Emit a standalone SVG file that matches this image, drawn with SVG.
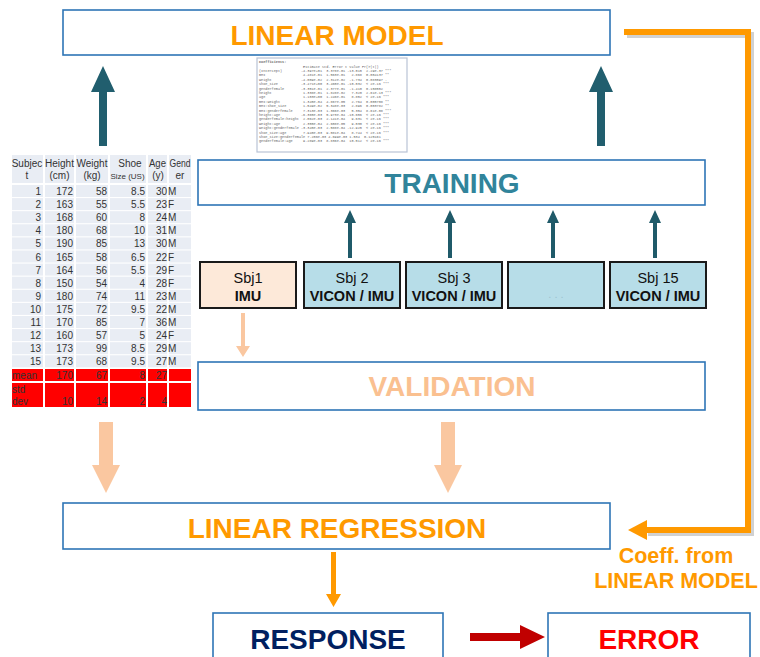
<svg xmlns="http://www.w3.org/2000/svg" width="760" height="657" viewBox="0 0 760 657">
<style>
.box{fill:#fff;stroke:#2e75b6;stroke-width:1.6}
.big{font-family:"Liberation Sans",Arial,sans-serif;font-weight:bold;font-size:28px;text-anchor:middle}
.lbl{font-family:"Liberation Sans",Arial,sans-serif;font-weight:bold;font-size:21.5px;text-anchor:middle;fill:#ff9900}
.sbj{fill:#b7dde8;stroke:#1a1a1a;stroke-width:2}
.st{font-family:"Liberation Sans",Arial,sans-serif;font-size:14.5px;text-anchor:middle;fill:#111}
.stb{font-weight:bold}
.dots{font-family:"Liberation Sans",Arial,sans-serif;font-size:11px;text-anchor:middle;fill:#9ec3cf}
.cell{fill:#e9edf4}
.red{fill:#ff0000}
.tt{font-family:"Liberation Sans",Arial,sans-serif;font-size:10px;fill:#333}
.sm{font-size:8px}
.r{text-anchor:end}
.c{text-anchor:middle}
.co{font-family:"Liberation Mono","DejaVu Sans Mono",monospace;font-size:3.5px;fill:#666;white-space:pre}
.teal{fill:#215e6e}
.steal{fill:#1f5a69}
.peach{fill:#fac7a0}
.orange{fill:#ff9900}
</style>

<g id="linear-model">
<rect class="box" x="63" y="10" width="547" height="45"/>
<text class="big" x="337" y="45" fill="#ff9900">LINEAR MODEL</text>
</g>

<g id="coefficients">
<rect x="257" y="58" width="150" height="94" fill="#fff" stroke="#b9c3d6" stroke-width="1.2"/>
<text class="co" font-weight="bold" x="259" y="63">Coefficients:</text>
<text class="co" x="259" y="67.5">                     Estimate Std. Error t value Pr(&gt;|t|)    </text>
<text class="co" x="259" y="72">(Intercept)         -4.397e+01  3.378e-01 -13.015  2.29e-37 ***</text>
<text class="co" x="259" y="76.4">BMI                  4.481e-01  1.563e-01   2.868  0.004137 ** </text>
<text class="co" x="259" y="80.8">weight              -4.009e-02  2.312e-02  -1.734  0.083097 .  </text>
<text class="co" x="259" y="85.2">shoe_size           -3.471e+00  3.460e-01 -10.032  &lt; 2e-16 ***</text>
<text class="co" x="259" y="89.6">genderfemale        -3.351e-01  2.377e-01  -1.410  0.158552    </text>
<text class="co" x="259" y="94">height               1.338e-01  1.828e-02   7.320  2.61e-13 ***</text>
<text class="co" x="259" y="98.4">age                  1.103e+00  1.246e-01   8.852  &lt; 2e-16 ***</text>
<text class="co" x="259" y="102.8">BMI:weight           1.345e-04  4.867e-05   2.764  0.005708 ** </text>
<text class="co" x="259" y="107.2">BMI:shoe_size        1.549e-02  5.348e-03   2.896  0.003782 ** </text>
<text class="co" x="259" y="111.6">BMI:genderfemale     7.313e-03  1.366e-03   5.354  8.61e-08 ***</text>
<text class="co" x="259" y="116">height:age          -6.365e-03  5.973e-04 -10.656  &lt; 2e-16 ***</text>
<text class="co" x="259" y="120.4">genderfemale:height  2.062e-03  2.141e-04   9.631  &lt; 2e-16 ***</text>
<text class="co" x="259" y="124.8">weight:age           2.355e-04  2.608e-05   9.030  &lt; 2e-16 ***</text>
<text class="co" x="259" y="129.2">weight:genderfemale -3.345e-03  2.588e-04 -12.925  &lt; 2e-16 ***</text>
<text class="co" x="259" y="133.6">shoe_size:age        7.940e-03  9.081e-04   8.744  &lt; 2e-16 ***</text>
<text class="co" x="259" y="138">shoe_size:genderfemale 7.206e-03 4.699e-03 1.534  0.125161    </text>
<text class="co" x="259" y="142.4">genderfemale:age     9.289e-03  8.836e-04  10.512  &lt; 2e-16 ***</text>
</g>

<g id="data-table">
<rect class="cell" x="12" y="155" width="31" height="28"/>
<rect class="cell" x="45" y="155" width="29" height="28"/>
<rect class="cell" x="76" y="155" width="32" height="28"/>
<rect class="cell" x="110" y="155" width="36" height="28"/>
<rect class="cell" x="148" y="155" width="19" height="28"/>
<rect class="cell" x="169" y="155" width="22" height="28"/>
<text class="tt c" x="27" y="167">Subjec</text><text class="tt c" x="27" y="179">t</text>
<text class="tt c" x="59.5" y="167">Height</text><text class="tt c" x="59.5" y="179">(cm)</text>
<text class="tt c" x="92" y="167">Weight</text><text class="tt c" x="92" y="179">(kg)</text>
<text class="tt c" x="130" y="167">Shoe</text><text class="tt sm c" x="127.5" y="179">Size (US)</text>
<text class="tt c" x="157.5" y="167" textLength="17" lengthAdjust="spacingAndGlyphs">Age</text><text class="tt c" x="158" y="179">(y)</text>
<text class="tt c" x="180" y="167" textLength="21" lengthAdjust="spacingAndGlyphs">Gend</text><text class="tt c" x="180" y="179">er</text>
<g id="rows">
<g transform="translate(0,185)"><rect class="cell" x="12" width="31" height="12"/><rect class="cell" x="45" width="29" height="12"/><rect class="cell" x="76" width="32" height="12"/><rect class="cell" x="110" width="36" height="12"/><rect class="cell" x="148" width="19" height="12"/><rect class="cell" x="169" width="22" height="12"/>
<text class="tt r" x="41" y="10">1</text><text class="tt r" x="73" y="10">172</text><text class="tt r" x="107" y="10">58</text><text class="tt r" x="145" y="10">8.5</text><text class="tt r" x="167" y="10">30</text><text class="tt" x="168" y="10">M</text></g>
<g transform="translate(0,198.1)"><rect class="cell" x="12" width="31" height="12"/><rect class="cell" x="45" width="29" height="12"/><rect class="cell" x="76" width="32" height="12"/><rect class="cell" x="110" width="36" height="12"/><rect class="cell" x="148" width="19" height="12"/><rect class="cell" x="169" width="22" height="12"/>
<text class="tt r" x="41" y="10">2</text><text class="tt r" x="73" y="10">163</text><text class="tt r" x="107" y="10">55</text><text class="tt r" x="145" y="10">5.5</text><text class="tt r" x="167" y="10">23</text><text class="tt" x="168" y="10">F</text></g>
<g transform="translate(0,211.2)"><rect class="cell" x="12" width="31" height="12"/><rect class="cell" x="45" width="29" height="12"/><rect class="cell" x="76" width="32" height="12"/><rect class="cell" x="110" width="36" height="12"/><rect class="cell" x="148" width="19" height="12"/><rect class="cell" x="169" width="22" height="12"/>
<text class="tt r" x="41" y="10">3</text><text class="tt r" x="73" y="10">168</text><text class="tt r" x="107" y="10">60</text><text class="tt r" x="145" y="10">8</text><text class="tt r" x="167" y="10">24</text><text class="tt" x="168" y="10">M</text></g>
<g transform="translate(0,224.3)"><rect class="cell" x="12" width="31" height="12"/><rect class="cell" x="45" width="29" height="12"/><rect class="cell" x="76" width="32" height="12"/><rect class="cell" x="110" width="36" height="12"/><rect class="cell" x="148" width="19" height="12"/><rect class="cell" x="169" width="22" height="12"/>
<text class="tt r" x="41" y="10">4</text><text class="tt r" x="73" y="10">180</text><text class="tt r" x="107" y="10">68</text><text class="tt r" x="145" y="10">10</text><text class="tt r" x="167" y="10">31</text><text class="tt" x="168" y="10">M</text></g>
<g transform="translate(0,237.4)"><rect class="cell" x="12" width="31" height="12"/><rect class="cell" x="45" width="29" height="12"/><rect class="cell" x="76" width="32" height="12"/><rect class="cell" x="110" width="36" height="12"/><rect class="cell" x="148" width="19" height="12"/><rect class="cell" x="169" width="22" height="12"/>
<text class="tt r" x="41" y="10">5</text><text class="tt r" x="73" y="10">190</text><text class="tt r" x="107" y="10">85</text><text class="tt r" x="145" y="10">13</text><text class="tt r" x="167" y="10">30</text><text class="tt" x="168" y="10">M</text></g>
<g transform="translate(0,250.5)"><rect class="cell" x="12" width="31" height="12"/><rect class="cell" x="45" width="29" height="12"/><rect class="cell" x="76" width="32" height="12"/><rect class="cell" x="110" width="36" height="12"/><rect class="cell" x="148" width="19" height="12"/><rect class="cell" x="169" width="22" height="12"/>
<text class="tt r" x="41" y="10">6</text><text class="tt r" x="73" y="10">165</text><text class="tt r" x="107" y="10">58</text><text class="tt r" x="145" y="10">6.5</text><text class="tt r" x="167" y="10">22</text><text class="tt" x="168" y="10">F</text></g>
<g transform="translate(0,263.6)"><rect class="cell" x="12" width="31" height="12"/><rect class="cell" x="45" width="29" height="12"/><rect class="cell" x="76" width="32" height="12"/><rect class="cell" x="110" width="36" height="12"/><rect class="cell" x="148" width="19" height="12"/><rect class="cell" x="169" width="22" height="12"/>
<text class="tt r" x="41" y="10">7</text><text class="tt r" x="73" y="10">164</text><text class="tt r" x="107" y="10">56</text><text class="tt r" x="145" y="10">5.5</text><text class="tt r" x="167" y="10">29</text><text class="tt" x="168" y="10">F</text></g>
<g transform="translate(0,276.7)"><rect class="cell" x="12" width="31" height="12"/><rect class="cell" x="45" width="29" height="12"/><rect class="cell" x="76" width="32" height="12"/><rect class="cell" x="110" width="36" height="12"/><rect class="cell" x="148" width="19" height="12"/><rect class="cell" x="169" width="22" height="12"/>
<text class="tt r" x="41" y="10">8</text><text class="tt r" x="73" y="10">150</text><text class="tt r" x="107" y="10">54</text><text class="tt r" x="145" y="10">4</text><text class="tt r" x="167" y="10">28</text><text class="tt" x="168" y="10">F</text></g>
<g transform="translate(0,289.8)"><rect class="cell" x="12" width="31" height="12"/><rect class="cell" x="45" width="29" height="12"/><rect class="cell" x="76" width="32" height="12"/><rect class="cell" x="110" width="36" height="12"/><rect class="cell" x="148" width="19" height="12"/><rect class="cell" x="169" width="22" height="12"/>
<text class="tt r" x="41" y="10">9</text><text class="tt r" x="73" y="10">180</text><text class="tt r" x="107" y="10">74</text><text class="tt r" x="145" y="10">11</text><text class="tt r" x="167" y="10">23</text><text class="tt" x="168" y="10">M</text></g>
<g transform="translate(0,302.9)"><rect class="cell" x="12" width="31" height="12"/><rect class="cell" x="45" width="29" height="12"/><rect class="cell" x="76" width="32" height="12"/><rect class="cell" x="110" width="36" height="12"/><rect class="cell" x="148" width="19" height="12"/><rect class="cell" x="169" width="22" height="12"/>
<text class="tt r" x="41" y="10">10</text><text class="tt r" x="73" y="10">175</text><text class="tt r" x="107" y="10">72</text><text class="tt r" x="145" y="10">9.5</text><text class="tt r" x="167" y="10">22</text><text class="tt" x="168" y="10">M</text></g>
<g transform="translate(0,316)"><rect class="cell" x="12" width="31" height="12"/><rect class="cell" x="45" width="29" height="12"/><rect class="cell" x="76" width="32" height="12"/><rect class="cell" x="110" width="36" height="12"/><rect class="cell" x="148" width="19" height="12"/><rect class="cell" x="169" width="22" height="12"/>
<text class="tt r" x="41" y="10">11</text><text class="tt r" x="73" y="10">170</text><text class="tt r" x="107" y="10">85</text><text class="tt r" x="145" y="10">7</text><text class="tt r" x="167" y="10">36</text><text class="tt" x="168" y="10">M</text></g>
<g transform="translate(0,329.1)"><rect class="cell" x="12" width="31" height="12"/><rect class="cell" x="45" width="29" height="12"/><rect class="cell" x="76" width="32" height="12"/><rect class="cell" x="110" width="36" height="12"/><rect class="cell" x="148" width="19" height="12"/><rect class="cell" x="169" width="22" height="12"/>
<text class="tt r" x="41" y="10">12</text><text class="tt r" x="73" y="10">160</text><text class="tt r" x="107" y="10">57</text><text class="tt r" x="145" y="10">5</text><text class="tt r" x="167" y="10">24</text><text class="tt" x="168" y="10">F</text></g>
<g transform="translate(0,342.2)"><rect class="cell" x="12" width="31" height="12"/><rect class="cell" x="45" width="29" height="12"/><rect class="cell" x="76" width="32" height="12"/><rect class="cell" x="110" width="36" height="12"/><rect class="cell" x="148" width="19" height="12"/><rect class="cell" x="169" width="22" height="12"/>
<text class="tt r" x="41" y="10">13</text><text class="tt r" x="73" y="10">173</text><text class="tt r" x="107" y="10">99</text><text class="tt r" x="145" y="10">8.5</text><text class="tt r" x="167" y="10">29</text><text class="tt" x="168" y="10">M</text></g>
<g transform="translate(0,355.3)"><rect class="cell" x="12" width="31" height="12"/><rect class="cell" x="45" width="29" height="12"/><rect class="cell" x="76" width="32" height="12"/><rect class="cell" x="110" width="36" height="12"/><rect class="cell" x="148" width="19" height="12"/><rect class="cell" x="169" width="22" height="12"/>
<text class="tt r" x="41" y="10">15</text><text class="tt r" x="73" y="10">173</text><text class="tt r" x="107" y="10">68</text><text class="tt r" x="145" y="10">9.5</text><text class="tt r" x="167" y="10">27</text><text class="tt" x="168" y="10">M</text></g>
<g transform="translate(0,369)"><rect class="red" x="12" width="31" height="12"/><rect class="red" x="45" width="29" height="12"/><rect class="red" x="76" width="32" height="12"/><rect class="red" x="110" width="36" height="12"/><rect class="red" x="148" width="19" height="12"/><rect class="red" x="169" width="22" height="12"/>
<text class="tt" x="12" y="10">mean</text><text class="tt r" x="73" y="10">170</text><text class="tt r" x="107" y="10">67</text><text class="tt r" x="145" y="10">8</text><text class="tt r" x="167" y="10">27</text></g>
<g transform="translate(0,383)"><rect class="red" x="12" width="31" height="24"/><rect class="red" x="45" width="29" height="24"/><rect class="red" x="76" width="32" height="24"/><rect class="red" x="110" width="36" height="24"/><rect class="red" x="148" width="19" height="24"/><rect class="red" x="169" width="22" height="24"/>
<text class="tt" x="12" y="10">std</text><text class="tt" x="12" y="22">dev</text><text class="tt r" x="73" y="22">10</text><text class="tt r" x="107" y="22">14</text><text class="tt r" x="145" y="22">2</text><text class="tt r" x="167" y="22">4</text></g>
</g>
</g>

<g id="training">
<rect class="box" x="198" y="160" width="507" height="45"/>
<text class="big" x="452" y="193" fill="#31849b">TRAINING</text>
</g>

<g id="sbj1">
<rect x="200" y="262" width="96" height="46" fill="#fde9d9" stroke="#1a1a1a" stroke-width="2"/>
<text class="st" x="248" y="283">Sbj1</text>
<text class="st stb" x="248" y="301">IMU</text>
</g>
<g id="sbj2">
<rect class="sbj" x="304" y="262" width="96" height="46"/>
<text class="st" x="352" y="283">Sbj 2</text>
<text class="st stb" x="352" y="301">VICON / IMU</text>
</g>
<g id="sbj3">
<rect class="sbj" x="406" y="262" width="96" height="46"/>
<text class="st" x="454" y="283">Sbj 3</text>
<text class="st stb" x="454" y="301">VICON / IMU</text>
</g>
<g id="sbj-dots">
<rect class="sbj" x="508" y="262" width="96" height="46"/>
<text class="dots" x="556" y="298">. . .</text>
</g>
<g id="sbj15">
<rect class="sbj" x="610" y="262" width="96" height="46"/>
<text class="st" x="658" y="283">Sbj 15</text>
<text class="st stb" x="658" y="301">VICON / IMU</text>
</g>

<g id="validation">
<rect class="box" x="198" y="362" width="507" height="48"/>
<text class="big" x="452" y="396" fill="#fac090">VALIDATION</text>
</g>

<g id="linear-regression">
<rect class="box" x="63" y="503" width="547" height="46"/>
<text class="big" x="337" y="538" fill="#ff9900">LINEAR REGRESSION</text>
</g>

<g id="coeff-label">
<text class="lbl" x="676" y="563">Coeff. from</text>
<text class="lbl" x="676" y="588">LINEAR MODEL</text>
</g>

<g id="response">
<rect class="box" x="213" y="613" width="230" height="50"/>
<text class="big" x="328" y="649" fill="#002060">RESPONSE</text>
</g>

<g id="error">
<rect class="box" x="548" y="613" width="202" height="50"/>
<text class="big" x="649" y="649" fill="#ff0000">ERROR</text>
</g>

<g id="connectors">
<polygon class="teal" points="103,66 115,92 107,92 107,146 99,146 99,92 91,92"/>
<polygon class="teal" points="601,66 613,92 605,92 605,146 597,146 597,92 589,92"/>
<polygon class="steal" points="350,210 356,223 352,223 352,258 348,258 348,223 344,223"/>
<polygon class="steal" points="450,210 456,223 452,223 452,258 448,258 448,223 444,223"/>
<polygon class="steal" points="553,210 559,223 555,223 555,258 551,258 551,223 547,223"/>
<polygon class="steal" points="655,210 661,223 657,223 657,258 653,258 653,223 649,223"/>
<polygon class="peach" points="241,313 245,313 245,346 250,346 243,357 236,346 241,346"/>
<polygon class="peach" points="99,422 113,422 113,465 120,465 106,493 92,465 99,465"/>
<polygon class="peach" points="441,422 455,422 455,465 462,465 448,493 434,465 441,465"/>
<polyline points="627,35 751,35 751,533 648,533" fill="none" stroke="#000" stroke-opacity="0.18" stroke-width="6"/>
<polyline points="624,32 748,32 748,530 645,530" fill="none" stroke="#ff9900" stroke-width="6"/>
<polygon class="orange" points="628,530 647,520 647,540"/>
<polygon class="orange" points="331,552 336,552 336,594 341,594 333.5,607 326,594 331,594"/>
<polygon fill="#c00000" points="470,633 520,633 520,625 545,637 520,649 520,641 470,641"/>
</g>
</svg>
